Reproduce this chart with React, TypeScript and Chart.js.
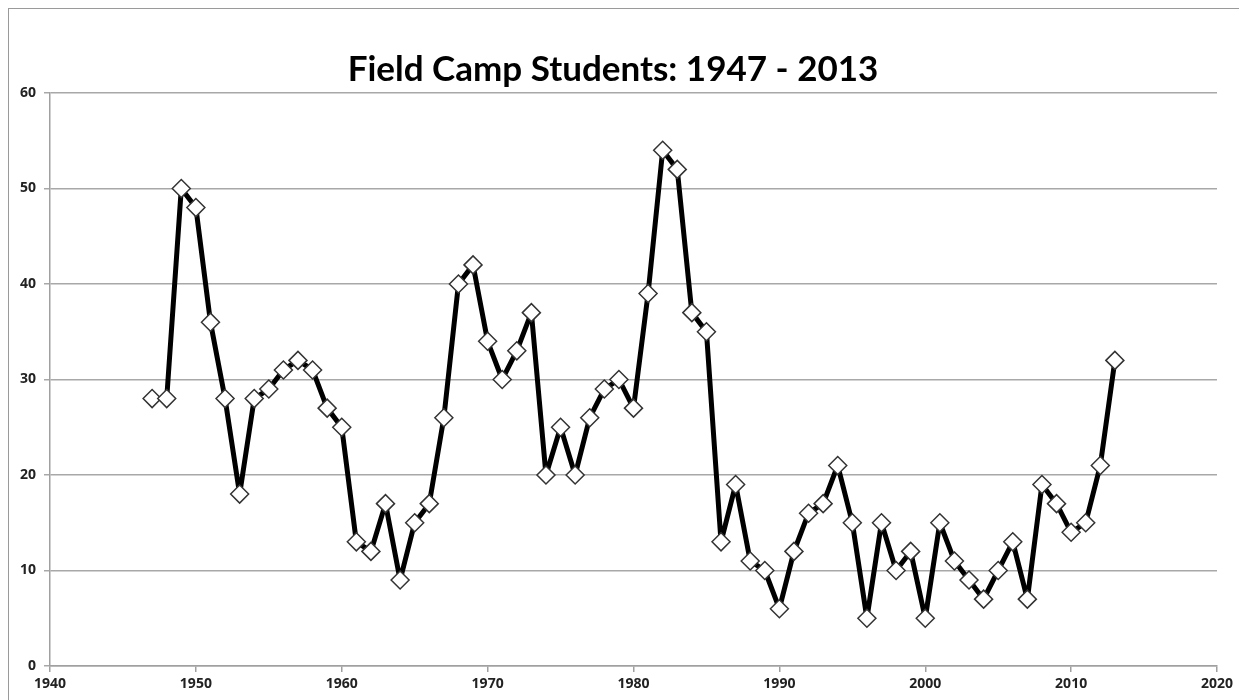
import React, { useEffect, useRef } from "react";
import { Chart, registerables } from "chart.js";

Chart.register(...registerables);

const years: number[] = [
  1947, 1948, 1949, 1950, 1951, 1952, 1953, 1954, 1955, 1956, 1957, 1958, 1959, 1960,
  1961, 1962, 1963, 1964, 1965, 1966, 1967, 1968, 1969, 1970, 1971, 1972, 1973, 1974,
  1975, 1976, 1977, 1978, 1979, 1980, 1981, 1982, 1983, 1984, 1985, 1986, 1987, 1988,
  1989, 1990, 1991, 1992, 1993, 1994, 1995, 1996, 1997, 1998, 1999, 2000, 2001, 2002,
  2003, 2004, 2005, 2006, 2007, 2008, 2009, 2010, 2011, 2012, 2013,
];
const students: number[] = [
  28, 28, 50, 48, 36, 28, 18, 28, 29, 31, 32, 31, 27, 25,
  13, 12, 17, 9, 15, 17, 26, 40, 42, 34, 30, 33, 37, 20,
  25, 20, 26, 29, 30, 27, 39, 54, 52, 37, 35, 13, 19, 11,
  10, 6, 12, 16, 17, 21, 15, 5, 15, 10, 12, 5, 15, 11,
  9, 7, 10, 13, 7, 19, 17, 14, 15, 21, 32,
];
const xTicks: number[] = [1940, 1950, 1960, 1970, 1980, 1990, 2000, 2010, 2020];
const yTicks: number[] = [0, 10, 20, 30, 40, 50, 60];
const titleText = "Field Camp Students: 1947 - 2013";

export default function App() {
  const ref = useRef<HTMLCanvasElement | null>(null);
  useEffect(() => {
    if (!ref.current) return;
    document.body.style.overflow = "hidden";
    const tickFont = { family: "'Open Sans', sans-serif", size: 14, weight: "bold" as const };
    const chart = new Chart(ref.current, {
      type: "line",
      data: {
        datasets: [
          {
            data: years.map((y, i) => ({ x: y, y: students[i] })),
            borderColor: "#000000",
            borderWidth: 5,
            borderJoinStyle: "round",
            pointStyle: "rectRot",
            pointRadius: 9,
            pointBackgroundColor: "#ffffff",
            pointBorderColor: "#333333",
            pointBorderWidth: 1.5,
            tension: 0,
          },
        ],
      },
      options: {
        animation: false,
        responsive: false,
        layout: { padding: { top: 0, right: 30, left: 0, bottom: 0 } },
        plugins: {
          legend: { display: false },
          tooltip: { enabled: false },
          title: {
            display: true,
            text: titleText,
            color: "#000000",
            font: { family: "Lato, sans-serif", size: 35, weight: "bold", lineHeight: 1.125 },
            padding: { top: 41, bottom: 3.6 },
          },
        },
        scales: {
          x: {
            type: "linear",
            min: 1940,
            max: 2020,
            afterBuildTicks: (axis: any) => {
              axis.ticks = xTicks.map((v) => ({ value: v }));
            },
            afterFit: (axis: any) => {
              axis.height = 34;
            },
            ticks: {
              color: "#222222",
              font: tickFont,
              padding: 4,
              maxRotation: 0,
              callback: (v: any) => String(v),
            },
            grid: {
              drawOnChartArea: false,
              drawTicks: true,
              tickLength: 6,
              color: "#a0a0a0",
              lineWidth: 1.5,
            },
            border: { color: "#a0a0a0", width: 1.5 },
          },
          y: {
            type: "linear",
            min: 0,
            max: 60,
            afterBuildTicks: (axis: any) => {
              axis.ticks = yTicks.map((v) => ({ value: v }));
            },
            afterFit: (axis: any) => {
              axis.width = 41;
            },
            ticks: {
              color: "#222222",
              font: tickFont,
              padding: 8,
            },
            grid: {
              drawTicks: true,
              tickLength: 6,
              color: "#a8a8a8",
              lineWidth: 1.5,
            },
            border: { color: "#a0a0a0", width: 1.5 },
          },
        },
      },
    });
    return () => chart.destroy();
  }, []);
  return (
    <div
      style={{
        width: 1238,
        height: 691,
        borderLeft: "1px solid #9a9a9a",
        borderTop: "1px solid #9a9a9a",
        overflow: "hidden",
      }}
    >
      <canvas ref={ref} width={1238} height={691} style={{ display: "block" }} />
    </div>
  );
}
